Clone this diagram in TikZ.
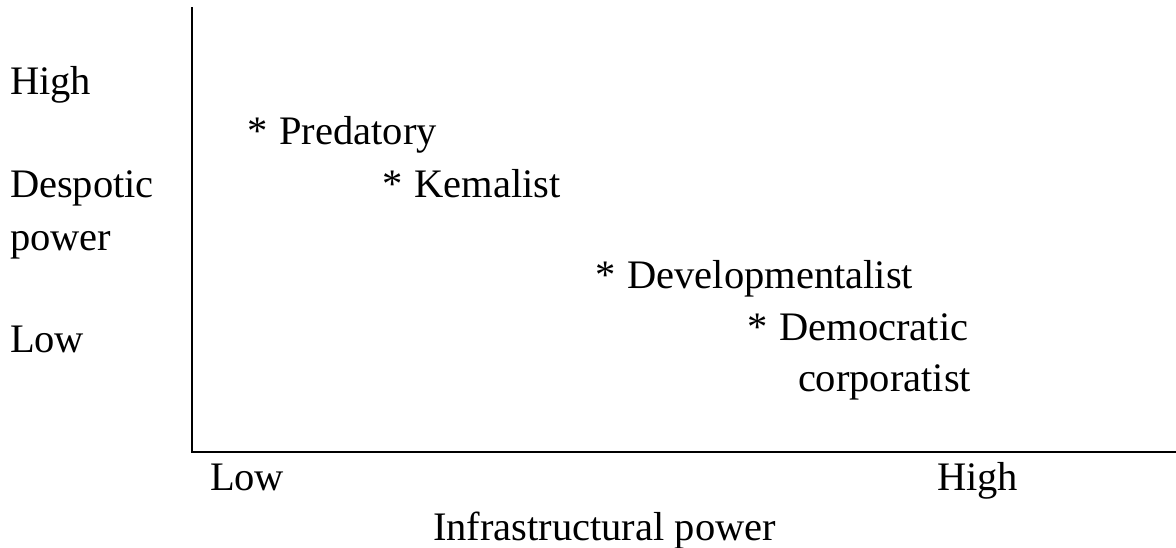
\documentclass[tikz,border=0pt]{standalone}
\usepackage{fontspec}
\setmainfont{Liberation Serif}
\newcommand{\typemark}{*\hspace{0.3em}}
\begin{document}
\begin{tikzpicture}[x=1pt,y=-1pt,
  lbl/.style={anchor=base west,inner sep=0pt,outer sep=0pt,
    font=\fontsize{40.5}{46}\selectfont},
  axis/.style={line width=2.7pt,black}]
\useasboundingbox (0,0) rectangle (1176,548);
% axes
\coordinate (top) at (192,8);
\coordinate (origin) at (192,452);
\coordinate (right) at (1176,452);
\draw[axis,line cap=rect] (top) -- (origin) -- (right);
% vertical axis labels
\node[lbl] (yhigh) at (10,95) {High};
\node[lbl] (ydesp) at (10,198) {Despotic};
\node[lbl] (ypow) at (10,251) {power};
\node[lbl] (ylow) at (10,352) {Low};
% state types
\node[lbl] (pred) at (247,145) {\typemark Predatory};
\node[lbl] (kem) at (382,198) {\typemark Kemalist};
\node[lbl] (dev) at (595,288) {\typemark Developmentalist};
\node[lbl] (dem) at (747,340) {\typemark Democratic};
\node[lbl] (corp) at (798,391) {corporatist};
% horizontal axis labels
\node[lbl] (xlow) at (210,490) {Low};
\node[lbl] (xhigh) at (937,490) {High};
\node[lbl] (xtitle) at (433,540) {Infrastructural power};
\end{tikzpicture}
\end{document}
